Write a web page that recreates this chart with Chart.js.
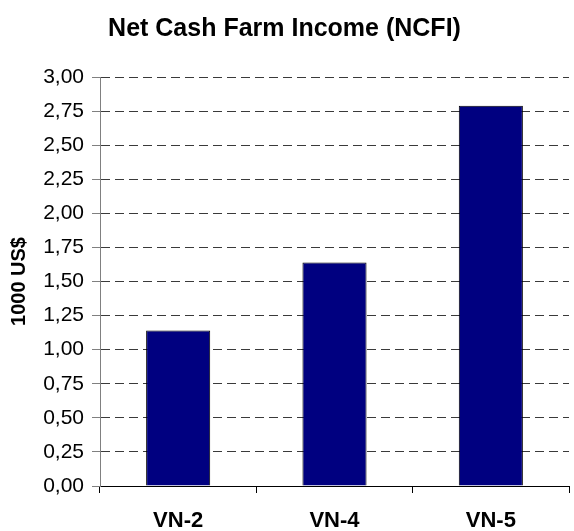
<!DOCTYPE html>
<html lang="en">
<head>
  <meta charset="UTF-8">
  <title>Net Cash Farm Income (NCFI)</title>
  <script src="https://cdn.jsdelivr.net/npm/chart.js"></script>
  <style>
    html, body {
      margin: 0;
      padding: 0;
      background: #fff;
    }

    .chart-container {
      width: 574px;
      height: 531px;
    }
  </style>
</head>
<body>

<div class="chart-container">
  <canvas id="ncfiChart" width="574" height="531"></canvas>
</div>

<script>
  // farm types and net cash farm income in 1000 US$
  const categories = ['VN-2', 'VN-4', 'VN-5'];
  const ncfi = [1.14, 1.64, 2.79];

  // y axis range
  const yMin = 0;
  const yMax = 3;
  const yStep = 0.25;

  const fontFamily = "'Liberation Sans', Arial, sans-serif";

  const ctx = document.getElementById('ncfiChart').getContext('2d');

  new Chart(ctx, {
    type: 'bar',
    data: {
      labels: categories,
      datasets: [{
        label: 'NCFI',
        data: ncfi,
        backgroundColor: '#000080',
        borderColor: '#000000',
        borderWidth: 1,
        barPercentage: 0.41,
        categoryPercentage: 1
      }]
    },
    options: {
      responsive: false,
      animation: false,
      layout: {
        padding: { left: 0, right: 5, top: 0, bottom: 0 }
      },
      scales: {
        x: {
          offset: true,
          grid: {
            offset: true,
            drawOnChartArea: false,
            drawTicks: true,
            tickLength: 7,
            color: '#000000'
          },
          border: { color: '#000000', width: 1 },
          ticks: {
            color: '#000000',
            padding: 15,
            font: { family: fontFamily, size: 22, weight: 'bold' }
          },
          afterFit: scale => { scale.height = 45; }
        },
        y: {
          min: yMin,
          max: yMax,
          grid: {
            color: '#3a3a3a',
            tickLength: 8,
            tickColor: '#808080',
            tickBorderDash: []
          },
          border: { color: '#808080', width: 1, dash: [9, 5] },
          ticks: {
            stepSize: yStep,
            color: '#000000',
            padding: 8,
            font: { family: fontFamily, size: 21 },
            callback: v => v.toFixed(2).replace('.', ',')
          },
          title: {
            display: true,
            text: '1000 US$',
            color: '#000000',
            padding: { top: 7, bottom: 0 },
            font: { family: fontFamily, size: 20, weight: 'bold' }
          },
          afterFit: scale => { scale.width = 100; }
        }
      },
      plugins: {
        legend: { display: false },
        tooltip: { enabled: false },
        title: {
          display: true,
          text: 'Net Cash Farm Income (NCFI)',
          color: '#000000',
          padding: { top: 14, bottom: 33 },
          font: { family: fontFamily, size: 25, weight: 'bold' }
        }
      }
    }
  });
</script>

</body>
</html>
